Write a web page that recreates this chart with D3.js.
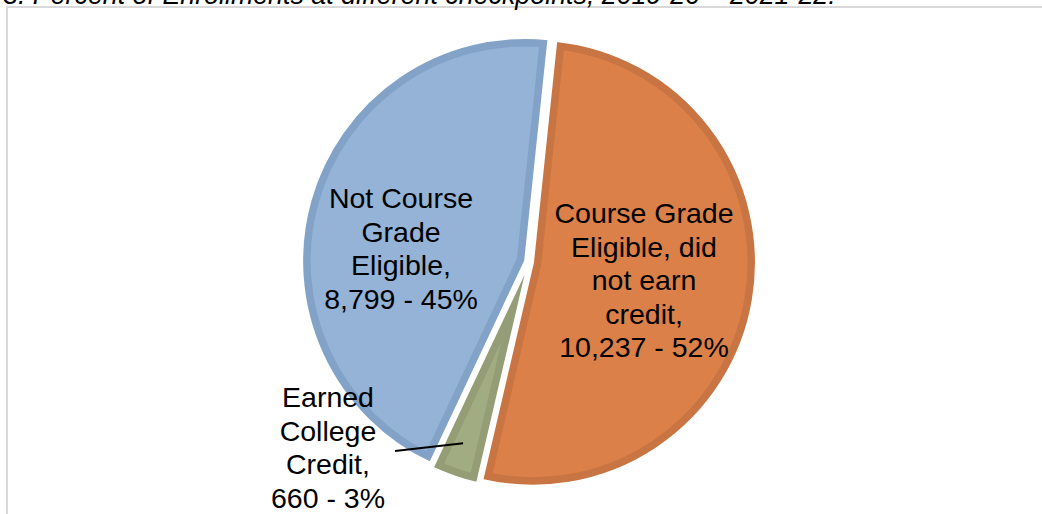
<!DOCTYPE html>
<html>
<head>
<meta charset="utf-8">
<script src="https://cdn.jsdelivr.net/npm/d3@7"></script>
<style>
  html, body { margin: 0; padding: 0; background: #fff; overflow: hidden; }
  svg { display: block; font-family: Arial, "Liberation Sans", sans-serif; }
</style>
</head>
<body>
<svg id="chart" width="1042" height="514"></svg>
<script>
// data, in the order the slices run clockwise from the top
var categories = ['Course Grade Eligible, did not earn credit', 'Earned College Credit', 'Not Course Grade Eligible'];
var counts = [10237, 660, 8799];
var percents = ['52%', '3%', '45%'];
var labelLines = [
  ['Course Grade', 'Eligible, did', 'not earn', 'credit,'],
  ['Earned', 'College', 'Credit,'],
  ['Not Course', 'Grade', 'Eligible,']
];
var fills = ['#da8048', '#a2ac83', '#94b3d7'];
var borders = ['#c97543', '#949d75', '#82a2c8'];
var title = '3. Percent of Enrollments at different checkpoints, 2019-20 \u2013 2021-22:';

var svg = d3.select('#chart');
var cx = 529, cy = 262, r = 223, explode = 4;

// grey frame of the chart area
svg.append('rect')
  .attr('x', 7).attr('y', 7)
  .attr('width', 1100).attr('height', 600)
  .style('fill', 'none')
  .style('stroke', '#d9d9d9')
  .style('stroke-width', 2);

// title, cut off by the top of the picture as in the source
svg.append('text')
  .attr('x', 3).attr('y', 4)
  .style('font-size', '26.8px')
  .style('font-style', 'italic')
  .style('fill', '#000')
  .text(title);

var startA = 6 * Math.PI / 180;
var pie = d3.pie().sort(null).value(function(d) { return d; })
  .startAngle(startA).endAngle(startA + 2 * Math.PI);
var arcs = pie(counts);
var arc = d3.arc().innerRadius(0).outerRadius(r);

var defs = svg.append('defs');
var g = svg.append('g').attr('transform', 'translate(' + cx + ',' + cy + ')');

arcs.forEach(function(a, i) {
  var mid = (a.startAngle + a.endAngle) / 2;
  var dx = explode * Math.sin(mid), dy = -explode * Math.cos(mid);
  var sg = g.append('g').attr('transform', 'translate(' + dx + ',' + dy + ')');
  defs.append('clipPath').attr('id', 'clip' + i)
    .append('path').attr('d', arc(a));
  // darker band inside the slice edge
  sg.append('path')
    .attr('d', arc(a))
    .attr('clip-path', 'url(#clip' + i + ')')
    .style('fill', fills[i])
    .style('stroke', borders[i])
    .style('stroke-width', 17)
    .style('stroke-linejoin', 'miter');
  sg.append('path')
    .attr('d', arc(a))
    .style('fill', 'none')
    .style('stroke', '#fff')
    .style('stroke-width', 2);
});

// labels
var fmt = d3.format(',');
var labelPos = [[644, 223], [328, 407], [401, 208]];
var lineH = 33.5;
labelLines.forEach(function(lines, i) {
  var all = lines.concat([fmt(counts[i]) + ' - ' + percents[i]]);
  var t = svg.append('text')
    .attr('text-anchor', 'middle')
    .style('font-size', '28.5px')
    .style('fill', '#000');
  all.forEach(function(s, j) {
    t.append('tspan')
      .attr('x', labelPos[i][0])
      .attr('y', labelPos[i][1] + j * lineH)
      .text(s);
  });
});

// leader line for the small slice
var gp = d3.arc().innerRadius(r * 0.86).outerRadius(r * 0.86).centroid(arcs[1]);
svg.append('line')
  .attr('x1', 395).attr('y1', 451)
  .attr('x2', cx + gp[0] - 3).attr('y2', cy + gp[1])
  .style('stroke', '#000')
  .style('stroke-width', 2);
</script>
</body>
</html>
